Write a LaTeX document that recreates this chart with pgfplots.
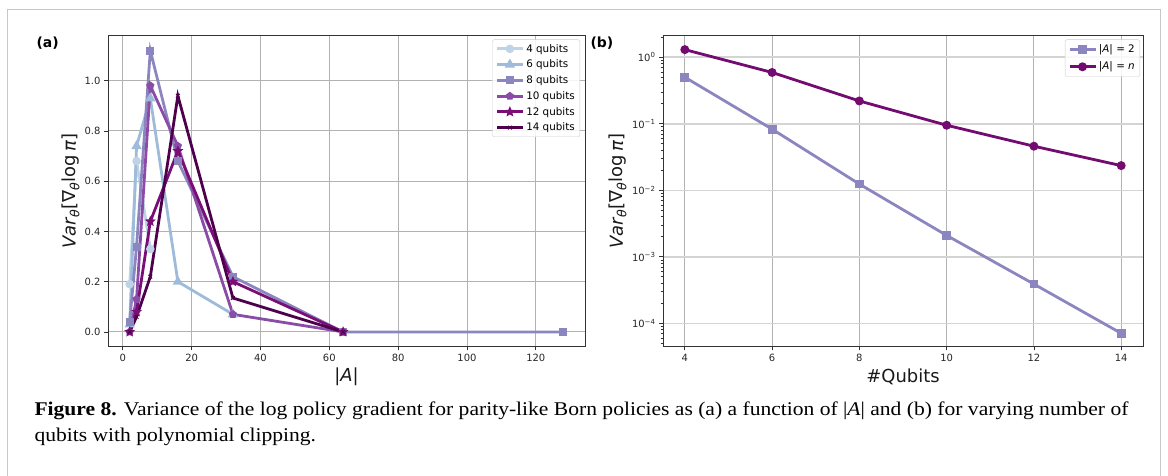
\documentclass[border=0pt]{standalone}
\usepackage{fontspec}
\setmainfont{DejaVu Sans}
\newfontfamily\capfont{Liberation Serif}[FakeStretch=1.11]
\usepackage{pgfplots}
\pgfplotsset{compat=1.18}
\usetikzlibrary{plotmarks}
\definecolor{c4}{HTML}{BFD3E6}
\definecolor{c6}{HTML}{9EBCDA}
\definecolor{c8}{HTML}{8C86C0}
\definecolor{c10}{HTML}{8A4CA6}
\definecolor{c12}{HTML}{7A0E77}
\definecolor{c14}{HTML}{4D004B}
\definecolor{cn}{HTML}{730B70}
\definecolor{spine}{HTML}{333333}
\pgfdeclareplotmark{fstar}{%
 \pgfpathmoveto{\pgfpointpolar{90}{\pgfplotmarksize}}%
 \pgfpathlineto{\pgfpointpolar{126}{0.45\pgfplotmarksize}}%
 \pgfpathlineto{\pgfpointpolar{162}{\pgfplotmarksize}}%
 \pgfpathlineto{\pgfpointpolar{198}{0.45\pgfplotmarksize}}%
 \pgfpathlineto{\pgfpointpolar{234}{\pgfplotmarksize}}%
 \pgfpathlineto{\pgfpointpolar{270}{0.45\pgfplotmarksize}}%
 \pgfpathlineto{\pgfpointpolar{306}{\pgfplotmarksize}}%
 \pgfpathlineto{\pgfpointpolar{342}{0.45\pgfplotmarksize}}%
 \pgfpathlineto{\pgfpointpolar{18}{\pgfplotmarksize}}%
 \pgfpathlineto{\pgfpointpolar{54}{0.45\pgfplotmarksize}}%
 \pgfpathclose\pgfusepathqfillstroke}
\pgfplotsset{
  myax/.style={
    scale only axis,
    axis line style={draw=spine, line width=0.9bp},
    tick style={draw=spine, line width=0.8bp},
    tick align=outside,
    tick pos=left,
    major tick length=4bp,
    minor tick length=2.3bp,
    grid=major,
    major grid style={draw=black!30, line width=0.9bp},
    ticklabel style={font=\fontsize{10}{12}\selectfont, text=black!85},
    /pgf/number format/assume math mode=true,
    label style={font=\fontsize{18}{21}\selectfont, text=black!90},
    legend cell align=left,
    legend style={font=\fontsize{10.4}{12}\selectfont, draw=black!20, rounded corners=2bp,
      fill=white, fill opacity=0.85, text opacity=1, inner xsep=3bp, inner ysep=2.5bp,
      row sep=2.4bp},
    legend image code/.code={\draw[mark repeat=2,mark phase=2,##1] plot coordinates {(0bp,0bp)(13bp,0bp)(26bp,0bp)};},
  },
  ser/.style={line width=2.8bp, mark size=#1, mark options={solid}},
}
\begin{document}
\begin{tikzpicture}[x=1bp,y=1bp]
\path[use as bounding box] (0,0) rectangle (1168,476);
\draw[black!22, line width=1.3bp] (7.5,-5) rectangle (1160.5,466.5);
\node[font=\bfseries\fontsize{14}{16}\selectfont, anchor=west] at (33,433) {(a)};
\node[font=\bfseries\fontsize{14}{16}\selectfont, anchor=west] at (587,433) {(b)};
\begin{axis}[myax, at={(108bp,129.5bp)}, anchor=south west, width=477bp, height=311bp,
  xmin=-4.3, xmax=134.3, ymin=-0.058, ymax=1.18,
  xtick={0,20,...,120}, ytick={0,0.2,...,1.0},
  yticklabel style={/pgf/number format/fixed, /pgf/number format/fixed zerofill, /pgf/number format/precision=1},
  xlabel={|\textit{A}|}, ylabel={\textit{Var}\textsubscript{\textit{θ}}[∇\textsubscript{\textit{θ}}log\,\textit{π}]},
  xlabel style={at={(axis description cs:0.5,-0.097)}, anchor=center},
  ylabel style={at={(axis description cs:-0.078,0.5)}, anchor=center},
  legend style={at={(1,1)}, anchor=north east, xshift=-5bp, yshift=-4bp},
]
\addplot[ser=2.8bp, color=c4, mark=*] coordinates {(2,0.19)(4,0.68)(8,0.33)};
\addlegendentry{4 qubits}
\addplot[ser=3.2bp, color=c6, mark=triangle*] coordinates {(2,0.03)(4,0.74)(8,0.93)(16,0.20)(32,0.07)};
\addlegendentry{6 qubits}
\addplot[ser=2.6bp, color=c8, mark=square*] coordinates {(2,0.04)(4,0.34)(8,1.12)(16,0.68)(32,0.22)(64,0.0)(128,0.0)};
\addlegendentry{8 qubits}
\addplot[ser=2.6bp, color=c10, mark=pentagon*] coordinates {(2,0.0)(4,0.13)(8,0.98)(16,0.74)(32,0.07)(64,0.0)};
\addlegendentry{10 qubits}
\addplot[ser=2.1bp, color=c12, mark=fstar] coordinates {(2,0.0)(4,0.08)(8,0.44)(16,0.72)(32,0.20)(64,0.0)};
\addlegendentry{12 qubits}
\addplot[ser=2.6bp, color=c14, mark=x, mark options={line width=1bp}] coordinates {(2,0.0)(4,0.06)(8,0.22)(16,0.94)(32,0.135)(64,0.0)};
\addlegendentry{14 qubits}
\end{axis}
\begin{axis}[myax, at={(663bp,129.5bp)}, anchor=south west, width=480bp, height=311bp,
  xmin=3.5, xmax=14.5, ymode=log, ymin=4.5e-5, ymax=2.12,
  xtick={4,6,...,14},
  ytick={1e-4,1e-3,1e-2,1e-1,1},
  yticklabels={10\textsuperscript{−4},10\textsuperscript{−3},10\textsuperscript{−2},10\textsuperscript{−1},10\textsuperscript{0}},
  minor ytick={5e-5,6e-5,7e-5,8e-5,9e-5,2e-4,3e-4,4e-4,5e-4,6e-4,7e-4,8e-4,9e-4,2e-3,3e-3,4e-3,5e-3,6e-3,7e-3,8e-3,9e-3,2e-2,3e-2,4e-2,5e-2,6e-2,7e-2,8e-2,9e-2,0.2,0.3,0.4,0.5,0.6,0.7,0.8,0.9,2},
  x grid style={draw=black!30, line width=0.9bp},
  y grid style={draw=black!17, line width=1.6bp},
  xlabel={\#Qubits}, ylabel={\textit{Var}\textsubscript{\textit{θ}}[∇\textsubscript{\textit{θ}}log\,\textit{π}]},
  xlabel style={at={(axis description cs:0.5,-0.097)}, anchor=center},
  ylabel style={at={(axis description cs:-0.094,0.5)}, anchor=center},
  legend style={at={(1,1)}, anchor=north east, xshift=-3bp, yshift=-4bp, row sep=4bp, inner ysep=3bp},
]
\addplot[ser=3bp, color=c8, mark=square*] coordinates {(4,0.50)(6,0.083)(8,0.0124)(10,0.0021)(12,0.00039)(14,0.000071)};
\addlegendentry{|\textit{A}| = 2}
\addplot[ser=3bp, color=cn, mark=*] coordinates {(4,1.3)(6,0.59)(8,0.22)(10,0.095)(12,0.046)(14,0.0235)};
\addlegendentry{|\textit{A}| = \textit{n}}
\end{axis}
\node[anchor=base west, font=\capfont\fontsize{19.5}{22}\selectfont] at (31,60) {\textbf{Figure 8.} Variance of the log policy gradient for parity-like Born policies as (a) a function of |\textit{A}| and (b) for varying number of};
\node[anchor=base west, font=\capfont\fontsize{19.5}{22}\selectfont] at (31,34) {qubits with polynomial clipping.};
\end{tikzpicture}
\end{document}
